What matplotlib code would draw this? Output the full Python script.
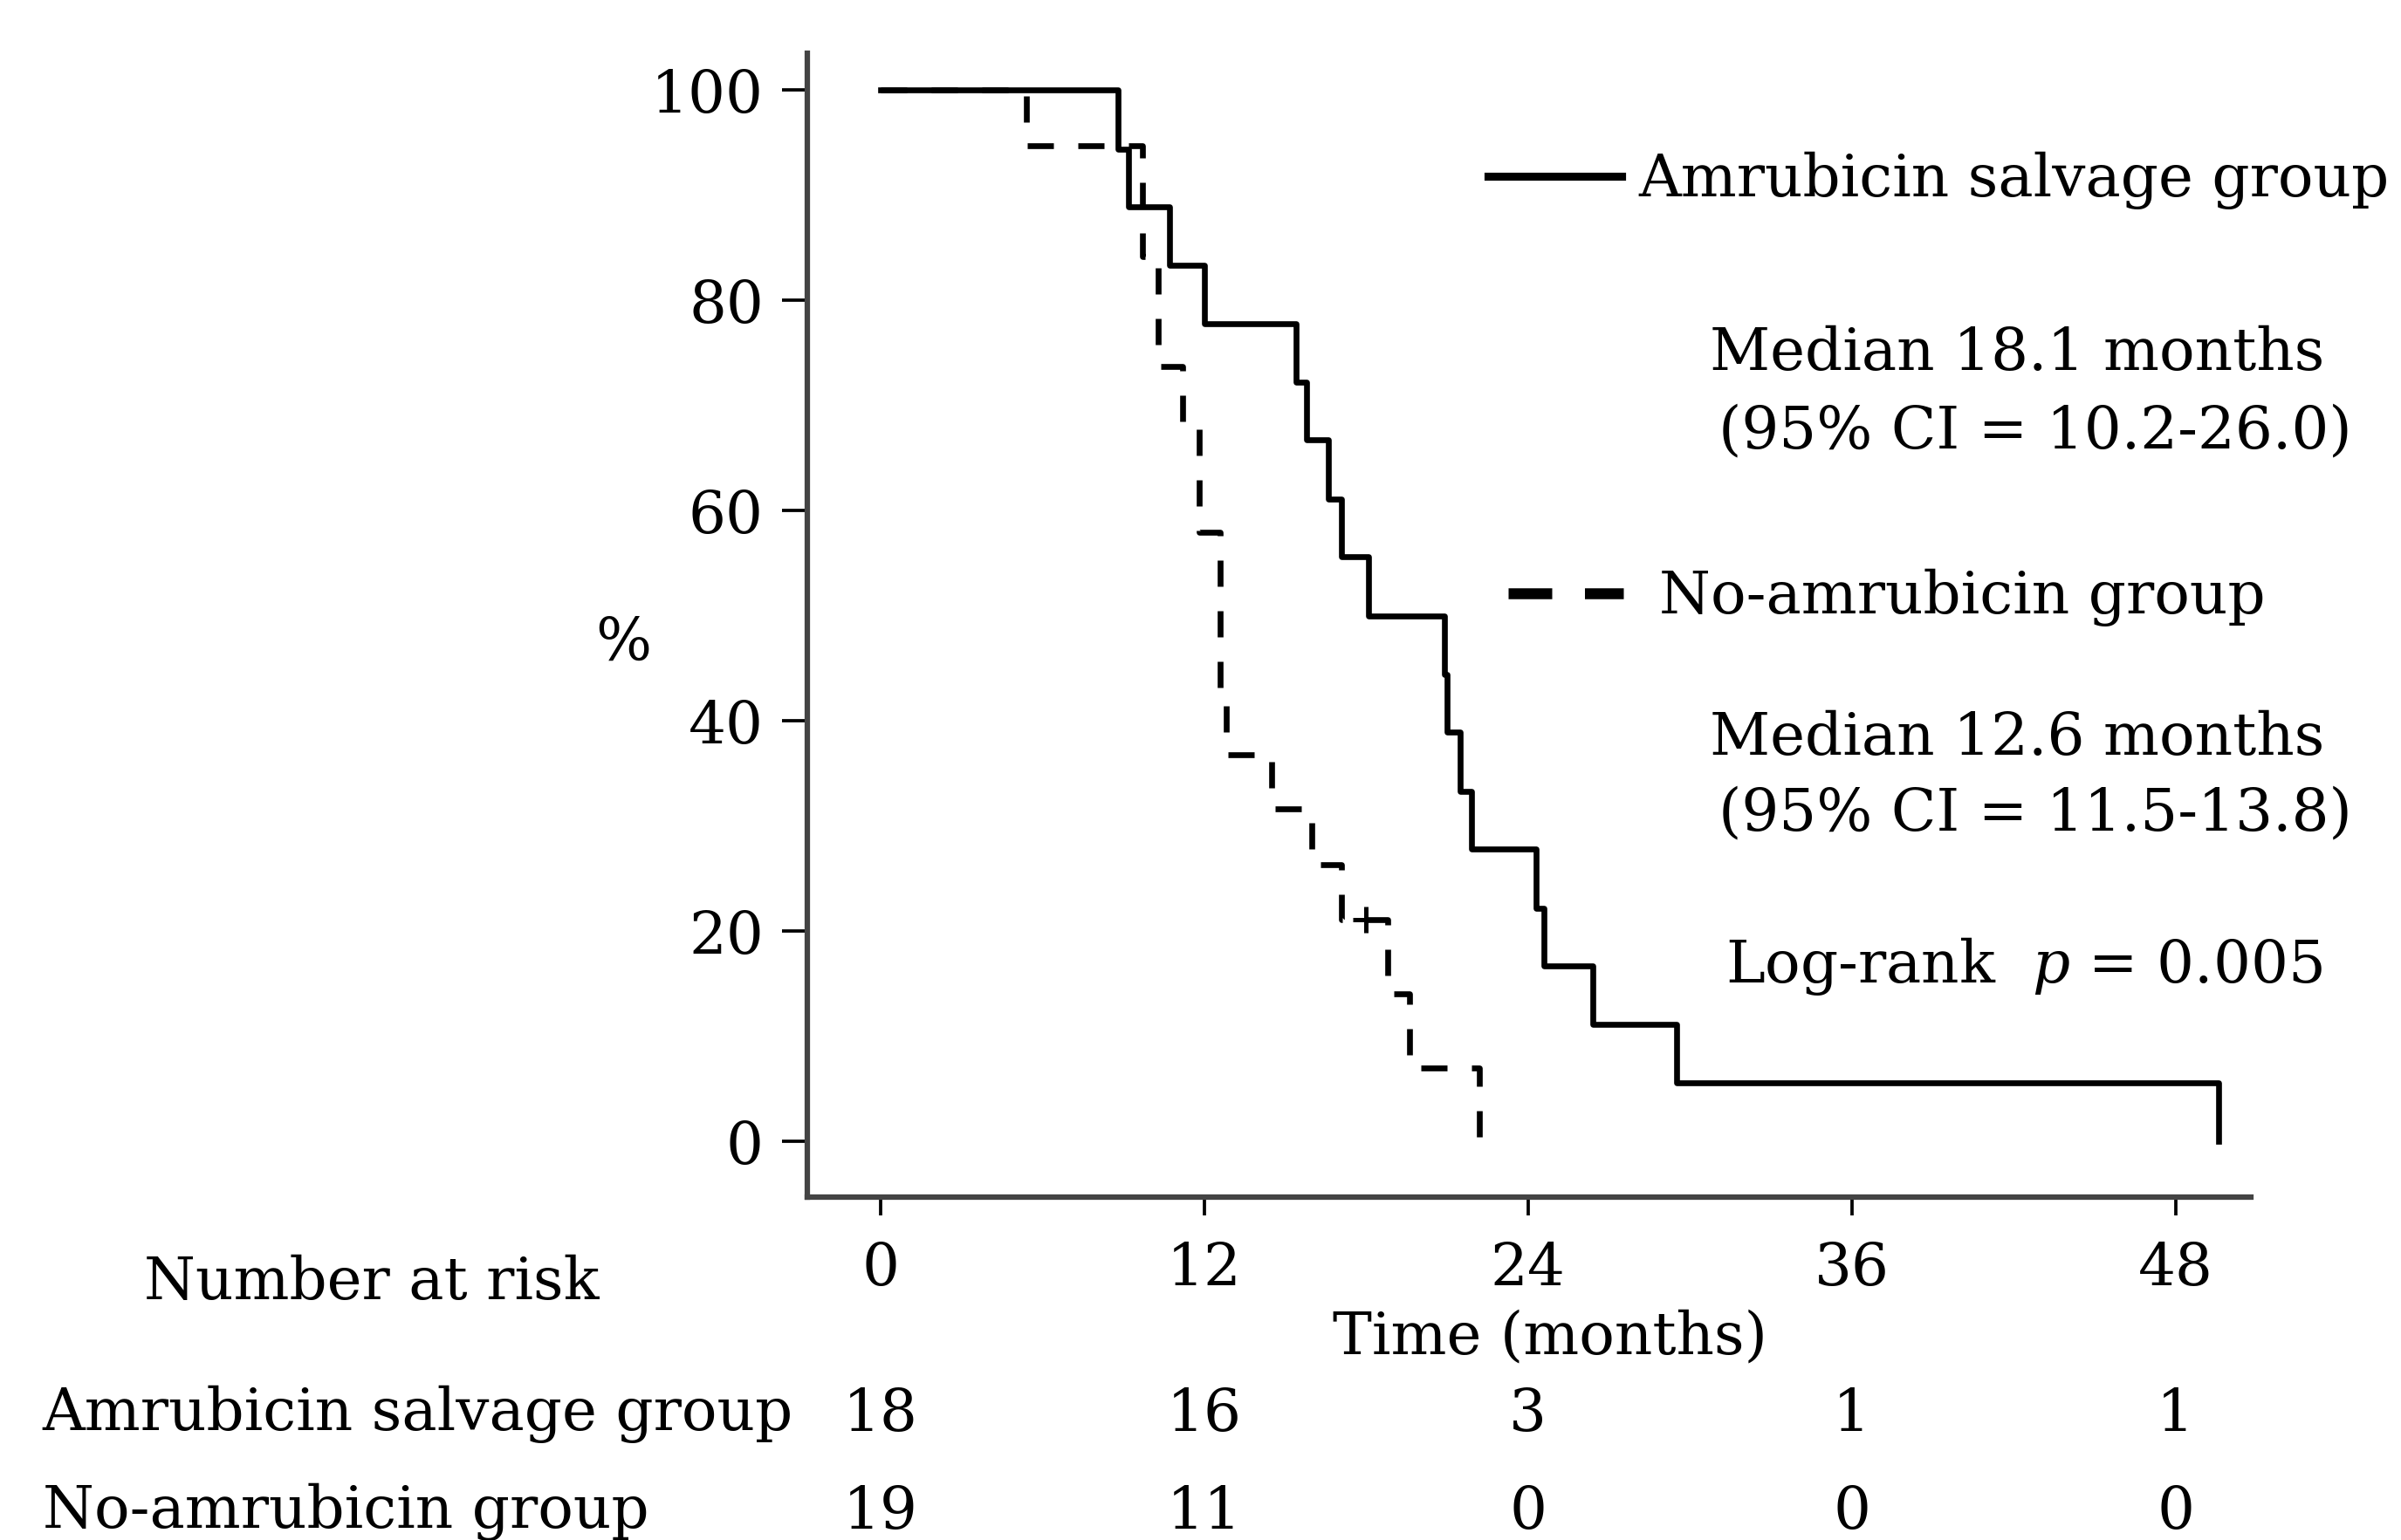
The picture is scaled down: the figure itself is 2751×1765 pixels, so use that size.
import matplotlib
matplotlib.use("Agg")
import matplotlib.pyplot as plt
from matplotlib.lines import Line2D
from matplotlib.transforms import blended_transform_factory

# Kaplan-Meier steps (months, % surviving)
amr_time = [0, 8.8, 9.2, 10.7, 12.0, 15.4, 15.8, 16.6, 17.1, 18.1, 20.9, 21.0,
            21.5, 21.9, 24.3, 24.6, 26.4, 29.5, 49.6]
amr_surv = [100, 94.4, 88.9, 83.3, 77.8, 72.2, 66.7, 61.1, 55.6, 50.0, 44.4,
            38.9, 33.3, 27.8, 22.2, 16.7, 11.1, 5.6, 0]

noamr_time = [0, 5.4, 9.7, 10.3, 11.2, 11.8, 12.6, 12.8, 14.5, 16.0, 17.1,
              18.8, 19.6, 22.2]
noamr_surv = [100, 94.7, 84.2, 73.7, 68.4, 57.9, 42.1, 36.8, 31.6, 26.3, 21.1,
              14.0, 7.0, 0]
noamr_censor_time = [18.0]
noamr_censor_surv = [21.1]

risk_times = [0, 12, 24, 36, 48]
risk_amr = [18, 16, 3, 1, 1]
risk_noamr = [19, 11, 0, 0, 0]

plt.rcParams["font.family"] = ["DejaVu Serif"]
plt.rcParams["mathtext.fontset"] = "dejavuserif"
fs = 16.2

fig = plt.figure(figsize=(2751 / 300, 1765 / 300), dpi=300)
ax = fig.add_axes([0.3362, 0.2227, 0.9375 - 0.3362, 0.9654 - 0.2227])

ax.step(amr_time, amr_surv, where="post", color="black", lw=1.6)
ax.step(noamr_time, noamr_surv, where="post", color="black", lw=1.6,
        dashes=(4.5, 4.2))
ax.plot(noamr_censor_time, noamr_censor_surv, "+", color="black", ms=7, mew=1.2)

ax.set_xlim(-2.72, 50.8)
ax.set_ylim(-5.3, 103.5)
ax.set_xticks(risk_times)
ax.set_yticks([0, 20, 40, 60, 80, 100])

for side in ["top", "right"]:
    ax.spines[side].set_visible(False)
for side in ["left", "bottom"]:
    ax.spines[side].set_color("#444444")
    ax.spines[side].set_linewidth(1.5)

ax.tick_params(axis="y", length=7, width=0.9, pad=5, labelsize=fs)
ax.tick_params(axis="x", length=5, width=0.9, pad=7, labelsize=fs)

ax.text(-0.1276, 0.4844, "%", transform=ax.transAxes, ha="center", va="center",
        fontsize=fs)
ax.text(0.5145, -0.123, "Time (months)", transform=ax.transAxes, ha="center",
        va="center", fontsize=fs)

# legend entries
h1 = [Line2D([], [], color="black", lw=2.2)]
leg1 = ax.legend(h1, ["Amrubicin salvage group"], loc="center left",
                 bbox_to_anchor=(0.4716, 0.8885), frameon=False, fontsize=fs,
                 borderpad=0, borderaxespad=0, handlelength=2.26,
                 handletextpad=0.3)
ax.add_artist(leg1)
h2 = [Line2D([], [], color="black", lw=3, dashes=(4, 3))]
ax.legend(h2, ["No-amrubicin group"], loc="center left",
          bbox_to_anchor=(0.4855, 0.524), frameon=False, fontsize=fs,
          borderpad=0, borderaxespad=0, handlelength=1.96, handletextpad=0.6)

ax.text(0.838, 0.7376, "Median 18.1 months", transform=ax.transAxes,
        ha="center", va="center", fontsize=fs)
ax.text(0.8506, 0.669, "(95% CI = 10.2-26.0)", transform=ax.transAxes,
        ha="center", va="center", fontsize=fs)
ax.text(0.838, 0.4013, "Median 12.6 months", transform=ax.transAxes,
        ha="center", va="center", fontsize=fs)
ax.text(0.8506, 0.3347, "(95% CI = 11.5-13.8)", transform=ax.transAxes,
        ha="center", va="center", fontsize=fs)
ax.text(0.8426, 0.2021, "Log-rank  $\\it{p}$ = 0.005", transform=ax.transAxes,
        ha="center", va="center", fontsize=fs)

# number at risk table
trans = blended_transform_factory(ax.transData, ax.transAxes)
ax.text(-0.3017, -0.0748, "Number at risk", transform=ax.transAxes,
        ha="center", va="center", fontsize=fs)
ax.text(-0.5296, -0.19, "Amrubicin salvage group", transform=ax.transAxes,
        ha="left", va="center", fontsize=fs)
ax.text(-0.5296, -0.2754, "No-amrubicin group", transform=ax.transAxes,
        ha="left", va="center", fontsize=fs)
for t, a, b in zip(risk_times, risk_amr, risk_noamr):
    ax.text(t, -0.19, str(a), transform=trans, ha="center", va="center",
            fontsize=fs)
    ax.text(t, -0.2754, str(b), transform=trans, ha="center", va="center",
            fontsize=fs)

fig.savefig("out.png", dpi=300)
